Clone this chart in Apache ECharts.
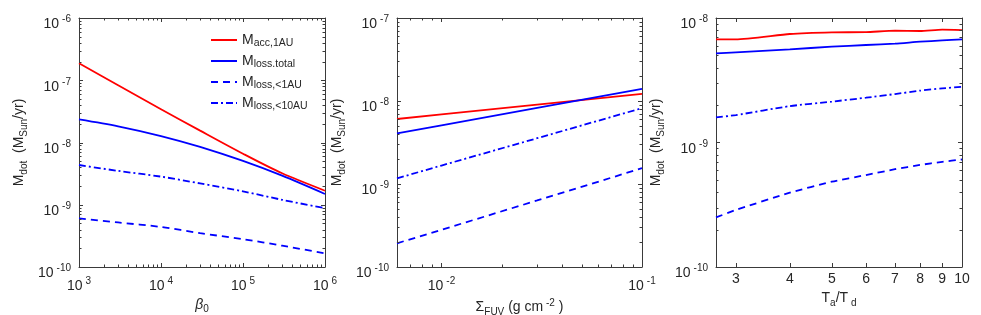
<!DOCTYPE html>
<html>
<head>
<meta charset="utf-8">
<script src="https://cdn.jsdelivr.net/npm/echarts@6/dist/echarts.min.js"></script>
<style>
html,body{margin:0;padding:0;background:#fff;}
#chart{width:981px;height:315px;}
</style>
</head>
<body>
<div id="chart"></div>
<script>
// ---------- DATA ----------
const seriesNames = ['acc,1AU', 'loss.total', 'loss,<1AU', 'loss,<10AU'];

// Panel 1: beta_0
const beta0 = [1e3, 3e3, 1e4, 3e4, 1e5, 3e5, 1e6];
const p1Acc1AU   = [1.87e-7, 8.3e-8, 3.43e-8, 1.55e-8, 6.6e-9, 3.2e-9, 1.68e-9];
const p1LossTot  = [2.35e-8, 1.82e-8, 1.27e-8, 8.5e-9, 5.05e-9, 2.93e-9, 1.49e-9];
const p1Loss1AU  = [6.05e-10, 5.2e-10, 4.4e-10, 3.5e-10, 2.8e-10, 2.2e-10, 1.66e-10];
const p1Loss10AU = [4.35e-9, 3.5e-9, 2.83e-9, 2.2e-9, 1.64e-9, 1.2e-9, 8.8e-10];

// Panel 2: Sigma_FUV
const sigmaFUV = [0.006, 0.01, 0.03, 0.1];
const p2Acc1AU   = [6.07e-9, 6.89e-9, 9.06e-9, 1.22e-8];
const p2LossTot  = [4.08e-9, 5.1e-9, 8.25e-9, 1.40e-8];
const p2Loss1AU  = [1.93e-10, 2.81e-10, 6.33e-10, 1.55e-9];
const p2Loss10AU = [1.17e-9, 1.67e-9, 3.56e-9, 8.2e-9];

// Panel 3: Ta/Td
const tRatio = [2.7, 3, 4, 5, 6, 7, 8, 9, 10];
const p3Acc1AU   = [6.74e-9, 6.74e-9, 7.44e-9, 7.67e-9, 7.7e-9, 7.91e-9, 7.86e-9, 8.06e-9, 8.0e-9];
const p3LossTot  = [5.2e-9, 5.3e-9, 5.6e-9, 5.89e-9, 6.07e-9, 6.22e-9, 6.45e-9, 6.6e-9, 6.74e-9];
const p3Loss1AU  = [2.5e-10, 2.87e-10, 3.95e-10, 4.84e-10, 5.48e-10, 6.1e-10, 6.6e-10, 7.0e-10, 7.3e-10];
const p3Loss10AU = [1.59e-9, 1.66e-9, 1.96e-9, 2.13e-9, 2.29e-9, 2.45e-9, 2.61e-9, 2.72e-9, 2.8e-9];

// Axis ranges and tick labels
const x1Range = [1e3, 1e6];    const x1Ticks = [1e3, 1e4, 1e5, 1e6];
const y1Range = [1e-10, 1e-6]; const y1Ticks = [1e-10, 1e-9, 1e-8, 1e-7, 1e-6];
const x2Range = [0.006, 0.1];  const x2Ticks = [0.01, 0.1];
const y2Range = [1e-10, 1e-7]; const y2Ticks = [1e-10, 1e-9, 1e-8, 1e-7];
const x3Range = [2.7, 10];     const x3Ticks = [3, 4, 5, 6, 7, 8, 9, 10];
const y3Range = [1e-10, 1e-8]; const y3Ticks = [1e-10, 1e-9, 1e-8];

// ---------- STYLE ----------
const FONT = 'Liberation Sans, Arial, sans-serif';
const AXC = '#3a3a3a';
const TICKC = '#3a3a3a';
const TXT = '#262626';
const RED = '#ff0000', BLUE = '#0000ff';
const lineStyles = [
  {color: RED, width: 1.8, type: 'solid'},
  {color: BLUE, width: 1.8, type: 'solid'},
  {color: BLUE, width: 1.8, type: [7, 5]},
  {color: BLUE, width: 1.8, type: [7, 3, 2, 3]}
];

function minorTicks(range) {
  const out = [];
  const d0 = Math.floor(Math.log10(range[0]) + 1e-9);
  const d1 = Math.ceil(Math.log10(range[1]) - 1e-9);
  for (let d = d0; d <= d1; d++) {
    for (let k = 2; k <= 9; k++) {
      const v = parseFloat((k * Math.pow(10, d)).toPrecision(6));
      if (v > range[0] * 1.0001 && v < range[1] * 0.9999) out.push(v);
    }
  }
  return out;
}
function pow10Label(v) {
  const e = Math.round(Math.log10(v));
  return '{b|10}{sup|' + e + '}';
}
const richLbl = {
  b: {fontSize: 14, fontFamily: FONT, color: TXT, padding: [5, 0, 0, 0]},
  sup: {fontSize: 10, fontFamily: FONT, color: TXT, padding: [0, 0, 5, 3]}
};

const grids = [
  {left: 79, top: 18, width: 246, height: 249, outerBoundsMode: 'none', containLabel: false},
  {left: 397, top: 18, width: 245, height: 249, outerBoundsMode: 'none', containLabel: false},
  {left: 716, top: 18, width: 246, height: 249, outerBoundsMode: 'none', containLabel: false}
];

const xAxes = [], yAxes = [];
function baseAxis(gi, pos, range, extra) {
  return Object.assign({
    type: 'log', logBase: 10, gridIndex: gi, position: pos,
    min: range[0], max: range[1],
    axisLine: {show: true, lineStyle: {color: AXC, width: 1}},
    axisTick: {show: false},
    axisLabel: {show: false},
    splitLine: {show: false},
    minorTick: {show: false}, minorSplitLine: {show: false}
  }, extra);
}
const subRich = {
  sub: {fontSize: 10, fontFamily: FONT, color: TXT, padding: [9, 0, 0, 0]},
  sup: {fontSize: 10, fontFamily: FONT, color: TXT, padding: [0, 0, 9, 0]},
  it: {fontSize: 14, fontFamily: FONT, color: TXT, fontStyle: 'italic'}
};

function addPanel(gi, xr, xt, xFmt, xMargin, xName, xNameGap, yr, yt, yNameGap) {
  xAxes.push(baseAxis(gi, 'bottom', xr, {
    axisLabel: {show: true, customValues: xt, formatter: xFmt, margin: xMargin,
      fontSize: 14, fontFamily: FONT, color: TXT, rich: richLbl},
    name: xName, nameLocation: 'middle', nameGap: xNameGap,
    nameTextStyle: {fontSize: 14, fontFamily: FONT, color: TXT, rich: subRich}
  }));
  xAxes.push(baseAxis(gi, 'top', xr, {}));
  yAxes.push(baseAxis(gi, 'left', yr, {
    axisLabel: {show: true, customValues: yt, formatter: pow10Label, margin: 8,
      padding: [8, 0, 0, 0],
      fontSize: 14, fontFamily: FONT, color: TXT, rich: richLbl},
    name: 'M{sub|dot}  (M{sub|Sun}/yr)', nameLocation: 'middle', nameGap: yNameGap, nameRotate: 90,
    nameTextStyle: {fontSize: 14, fontFamily: FONT, color: TXT, rich: subRich}
  }));
  yAxes.push(baseAxis(gi, 'right', yr, {}));
}

addPanel(0, x1Range, x1Ticks, pow10Label, 7, '{it|β}{sub|0}', 24, y1Range, y1Ticks, 50);
addPanel(1, x2Range, x2Ticks, pow10Label, 7, 'Σ{sub|FUV} (g cm{sup| -2} )', 26, y2Range, y2Ticks, 50);
addPanel(2, x3Range, x3Ticks, (v) => String(Math.round(v)), 5, 'T{sub|a}/T{sub| d}', 22, y3Range, y3Ticks, 50);

// tick marks (inside, on all four sides), drawn through the axes' scales
const tickSpecs = [
  {xr: x1Range, yr: y1Range, xMaj: x1Ticks, xMin: minorTicks(x1Range), yMaj: y1Ticks, yMin: minorTicks(y1Range)},
  {xr: x2Range, yr: y2Range, xMaj: x2Ticks, xMin: minorTicks(x2Range), yMaj: y2Ticks, yMin: minorTicks(y2Range)},
  {xr: x3Range, yr: y3Range, xMaj: x3Ticks, xMin: [], yMaj: y3Ticks, yMin: minorTicks(y3Range)}
];
function tickSeries(gi, s) {
  const data = [];
  s.xMaj.forEach(v => data.push([v, s.yr[0], 0]));
  s.xMin.forEach(v => data.push([v, s.yr[0], 1]));
  s.yMaj.forEach(v => data.push([s.xr[0], v, 2]));
  s.yMin.forEach(v => data.push([s.xr[0], v, 3]));
  return {
    type: 'custom', xAxisIndex: gi * 2, yAxisIndex: gi * 2,
    silent: true, clip: false, z: 5, data: data,
    renderItem: function (params, api) {
      const kind = api.value(2);
      const len = (kind === 0 || kind === 2) ? 4 : 2.5;
      const style = {stroke: TICKC, lineWidth: 1, fill: null};
      if (kind < 2) {
        const b = api.coord([api.value(0), s.yr[0]]);
        const t = api.coord([api.value(0), s.yr[1]]);
        const x = Math.round(b[0]) + 0.5;
        return {type: 'group', children: [
          {type: 'line', shape: {x1: x, y1: b[1], x2: x, y2: b[1] - len}, style: style},
          {type: 'line', shape: {x1: x, y1: t[1], x2: x, y2: t[1] + len}, style: style}
        ]};
      } else {
        const l = api.coord([s.xr[0], api.value(1)]);
        const r = api.coord([s.xr[1], api.value(1)]);
        const y = Math.round(l[1]) + 0.5;
        return {type: 'group', children: [
          {type: 'line', shape: {x1: l[0], y1: y, x2: l[0] + len, y2: y}, style: style},
          {type: 'line', shape: {x1: r[0], y1: y, x2: r[0] - len, y2: y}, style: style}
        ]};
      }
    }
  };
}

const panelData = [
  {x: beta0, ys: [p1Acc1AU, p1LossTot, p1Loss1AU, p1Loss10AU], smooth: 0.3},
  {x: sigmaFUV, ys: [p2Acc1AU, p2LossTot, p2Loss1AU, p2Loss10AU], smooth: false},
  {x: tRatio, ys: [p3Acc1AU, p3LossTot, p3Loss1AU, p3Loss10AU], smooth: 0.2}
];
const series = [];
panelData.forEach((p, gi) => {
  series.push(tickSeries(gi, tickSpecs[gi]));
  p.ys.forEach((ys, si) => {
    series.push({
      type: 'line', name: seriesNames[si],
      xAxisIndex: gi * 2, yAxisIndex: gi * 2,
      data: p.x.map((xv, i) => [xv, ys[i]]),
      symbol: 'none', smooth: p.smooth, silent: true,
      lineStyle: lineStyles[si], itemStyle: {color: lineStyles[si].color},
      z: 3
    });
  });
});

const option = {
  animation: false,
  backgroundColor: '#ffffff',
  grid: grids,
  xAxis: xAxes,
  yAxis: yAxes,
  legend: {
    data: seriesNames,
    orient: 'vertical',
    left: 205, top: 28,
    itemWidth: 26, itemHeight: 14, itemGap: 5,
    formatter: (n) => 'M{sub|' + n + '}',
    itemStyle: {color: 'rgba(0,0,0,0)', borderColor: 'rgba(0,0,0,0)', borderWidth: 0, opacity: 0},
    textStyle: {fontSize: 14, fontFamily: FONT, color: TXT,
      rich: {sub: {fontSize: 10.5, fontFamily: FONT, color: TXT, padding: [7, 0, 0, 0]}}},
    backgroundColor: 'transparent'
  },
  series: series
};

const chart = echarts.init(document.getElementById('chart'), null, {renderer: 'canvas'});
chart.setOption(option);
</script>
</body>
</html>
